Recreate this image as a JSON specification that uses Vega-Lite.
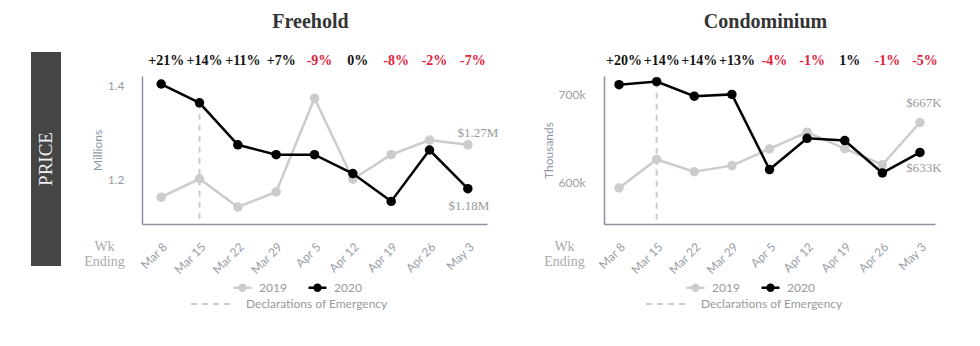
{
  "$schema": "https://vega.github.io/schema/vega-lite/v6.json",
  "padding": {"left": 31, "top": 0, "right": 0, "bottom": 0},
  "background": "white",
  "config": {
    "view": {"stroke": null},
    "font": "Lato",
    "axis": {"grid": false, "ticks": false, "domainColor": "#8d939e", "domainWidth": 1.5, "labelColor": "#9a9ea6", "labelFont": "Lato", "labelFontSize": 12, "titleFontWeight": "normal"}
  },
  "datasets": {
    "fh": [
      {"week": "Mar 8", "year": "2019", "value": 1.163},
      {"week": "Mar 15", "year": "2019", "value": 1.202},
      {"week": "Mar 22", "year": "2019", "value": 1.142},
      {"week": "Mar 29", "year": "2019", "value": 1.174},
      {"week": "Apr 5", "year": "2019", "value": 1.373},
      {"week": "Apr 12", "year": "2019", "value": 1.201},
      {"week": "Apr 19", "year": "2019", "value": 1.253},
      {"week": "Apr 26", "year": "2019", "value": 1.284},
      {"week": "May 3", "year": "2019", "value": 1.274, "label": "$1.27M"},
      {"week": "Mar 8", "year": "2020", "value": 1.403},
      {"week": "Mar 15", "year": "2020", "value": 1.363},
      {"week": "Mar 22", "year": "2020", "value": 1.274},
      {"week": "Mar 29", "year": "2020", "value": 1.253},
      {"week": "Apr 5", "year": "2020", "value": 1.253},
      {"week": "Apr 12", "year": "2020", "value": 1.213},
      {"week": "Apr 19", "year": "2020", "value": 1.154},
      {"week": "Apr 26", "year": "2020", "value": 1.263},
      {"week": "May 3", "year": "2020", "value": 1.181, "label": "$1.18M"}
    ],
    "co": [
      {"week": "Mar 8", "year": "2019", "value": 593.6},
      {"week": "Mar 15", "year": "2019", "value": 626},
      {"week": "Mar 22", "year": "2019", "value": 612},
      {"week": "Mar 29", "year": "2019", "value": 619},
      {"week": "Apr 5", "year": "2019", "value": 638},
      {"week": "Apr 12", "year": "2019", "value": 657},
      {"week": "Apr 19", "year": "2019", "value": 638.4},
      {"week": "Apr 26", "year": "2019", "value": 620},
      {"week": "May 3", "year": "2019", "value": 668, "label": "$667K"},
      {"week": "Mar 8", "year": "2020", "value": 711},
      {"week": "Mar 15", "year": "2020", "value": 714.5},
      {"week": "Mar 22", "year": "2020", "value": 698},
      {"week": "Mar 29", "year": "2020", "value": 700},
      {"week": "Apr 5", "year": "2020", "value": 614.5},
      {"week": "Apr 12", "year": "2020", "value": 650},
      {"week": "Apr 19", "year": "2020", "value": 647.5},
      {"week": "Apr 26", "year": "2020", "value": 610.7},
      {"week": "May 3", "year": "2020", "value": 634, "label": "$633K"}
    ],
    "fh_pct": [
      {"week": "Mar 8", "pct": "+21%", "dir": "up"},
      {"week": "Mar 15", "pct": "+14%", "dir": "up"},
      {"week": "Mar 22", "pct": "+11%", "dir": "up"},
      {"week": "Mar 29", "pct": "+7%", "dir": "up"},
      {"week": "Apr 5", "pct": "-9%", "dir": "down"},
      {"week": "Apr 12", "pct": "0%", "dir": "flat"},
      {"week": "Apr 19", "pct": "-8%", "dir": "down"},
      {"week": "Apr 26", "pct": "-2%", "dir": "down"},
      {"week": "May 3", "pct": "-7%", "dir": "down"}
    ],
    "co_pct": [
      {"week": "Mar 8", "pct": "+20%", "dir": "up"},
      {"week": "Mar 15", "pct": "+14%", "dir": "up"},
      {"week": "Mar 22", "pct": "+14%", "dir": "up"},
      {"week": "Mar 29", "pct": "+13%", "dir": "up"},
      {"week": "Apr 5", "pct": "-4%", "dir": "down"},
      {"week": "Apr 12", "pct": "-1%", "dir": "down"},
      {"week": "Apr 19", "pct": "1%", "dir": "up"},
      {"week": "Apr 26", "pct": "-1%", "dir": "down"},
      {"week": "May 3", "pct": "-5%", "dir": "down"}
    ]
  },
  "spacing": 22,
  "resolve": {"scale": {"color": "independent", "strokeDash": "independent"}},
  "hconcat": [
    {
      "width": 30,
      "height": 214,
      "title": {"text": " ", "fontSize": 20, "offset": 32},
      "view": {"fill": "#454545", "stroke": null},
      "data": {"values": [{"panel": "PRICE"}]},
      "mark": {"type": "text", "angle": 270, "font": "Liberation Serif", "fontSize": 19, "color": "#f2f2f2"},
      "encoding": {"text": {"field": "panel"}}
    },
    {
      "spacing": 43,
      "resolve": {"scale": {"color": "independent", "strokeDash": "independent"}},
      "hconcat": [
        {
          "spacing": 6,
          "vconcat": [
            {
              "width": 345,
              "height": 18,
              "title": {"text": "Freehold", "font": "Liberation Serif", "fontSize": 20, "fontWeight": "bold", "color": "#333333", "offset": 20, "anchor": "middle", "frame": "group", "dx": -4},
              "data": {"name": "fh_pct"},
              "mark": {"type": "text", "font": "Liberation Serif", "fontSize": 14, "fontWeight": "bold", "dx": 5},
              "encoding": {
                "x": {"field": "week", "type": "ordinal", "scale": {"type": "point", "domain": ["Mar 8", "Mar 15", "Mar 22", "Mar 29", "Apr 5", "Apr 12", "Apr 19", "Apr 26", "May 3"], "padding": 0.5}, "axis": null},
                "text": {"field": "pct"},
                "color": {"condition": {"test": "datum.dir == 'down'", "value": "#e3213b"}, "value": "#111111"}
              }
            },
            {
              "width": 345,
              "height": 148,
              "data": {"name": "fh"},
              "encoding": {
                "x": {"field": "week", "type": "ordinal", "scale": {"type": "point", "domain": ["Mar 8", "Mar 15", "Mar 22", "Mar 29", "Apr 5", "Apr 12", "Apr 19", "Apr 26", "May 3"], "padding": 0.5},
                  "axis": {"labelAngle": -45, "labelPadding": 17, "title": ["Wk", "Ending"], "titleFont": "Liberation Serif", "titleFontSize": 14, "titleColor": "#aaaaaa", "titleX": -38, "titleY": 15, "titleAlign": "center", "titleBaseline": "top", "titleLineHeight": 15}},
                "y": {"field": "value", "type": "quantitative", "scale": {"domain": [1.106, 1.42], "nice": false, "zero": false},
                  "axis": {"values": [1.2, 1.4], "title": "Millions", "titleColor": "#8c96a8", "titleFontSize": 12, "titleFont": "Lato", "labelPadding": 18, "titlePadding": 3}}
              },
              "layer": [
                {
                  "transform": [{"filter": "datum.week == 'Mar 15' && datum.year == '2020'"}],
                  "mark": {"type": "rule", "strokeWidth": 2, "color": "#cccccc"},
                  "encoding": {
                    "y2": {"value": "height"},
                    "strokeDash": {"datum": "Declarations of Emergency", "type": "nominal", "scale": {"range": [[6, 5]]},
                      "legend": {"orient": "none", "legendX": 48, "legendY": 229, "title": null, "symbolType": "stroke", "symbolSize": 1936, "symbolStrokeColor": "#cccccc", "symbolStrokeWidth": 2, "labelColor": "#999999", "labelFontSize": 12, "labelFont": "Lato", "labelOffset": 10}}
                  }
                },
                {
                  "transform": [{"filter": "datum.year == '2019'"}],
                  "mark": {"type": "line", "strokeWidth": 2.5},
                  "encoding": {"color": {"field": "year", "type": "nominal", "scale": {"domain": ["2019", "2020"], "range": ["#cccccc", "#000000"]},
                    "legend": {"orient": "none", "legendX": 90, "legendY": 225, "direction": "horizontal", "title": null, "symbolType": "M-1,0L1,0M-0.33,0A0.33,0.33,0,1,0,0.33,0A0.33,0.33,0,1,0,-0.33,0Z", "symbolSize": 324, "symbolStrokeWidth": 2.5, "labelColor": "#999999", "labelFontSize": 12, "labelFont": "Lato", "labelOffset": 6, "columnPadding": 16}}}
                },
                {
                  "transform": [{"filter": "datum.year == '2019'"}],
                  "mark": {"type": "point", "filled": true, "size": 90, "opacity": 1},
                  "encoding": {"color": {"field": "year", "type": "nominal"}}
                },
                {
                  "transform": [{"filter": "datum.year == '2020'"}],
                  "mark": {"type": "line", "strokeWidth": 2.5},
                  "encoding": {"color": {"field": "year", "type": "nominal"}}
                },
                {
                  "transform": [{"filter": "datum.year == '2020'"}],
                  "mark": {"type": "point", "filled": true, "size": 90, "opacity": 1},
                  "encoding": {"color": {"field": "year", "type": "nominal"}}
                },
                {
                  "transform": [{"filter": "datum.year == '2019' && datum.label"}],
                  "mark": {"type": "text", "font": "Liberation Serif", "fontSize": 13, "color": "#999999", "dx": 10, "dy": -12},
                  "encoding": {"text": {"field": "label"}}
                },
                {
                  "transform": [{"filter": "datum.year == '2020' && datum.label"}],
                  "mark": {"type": "text", "font": "Liberation Serif", "fontSize": 13, "color": "#999999", "dx": 1, "dy": 17},
                  "encoding": {"text": {"field": "label"}}
                }
              ]
            }
          ]
        },
        {
          "spacing": 6,
          "vconcat": [
            {
              "width": 331,
              "height": 18,
              "title": {"text": "Condominium", "font": "Liberation Serif", "fontSize": 20, "fontWeight": "bold", "color": "#333333", "offset": 20, "anchor": "middle", "frame": "group", "dx": -4},
              "data": {"name": "co_pct"},
              "mark": {"type": "text", "font": "Liberation Serif", "fontSize": 14, "fontWeight": "bold", "dx": 5},
              "encoding": {
                "x": {"field": "week", "type": "ordinal", "scale": {"type": "point", "domain": ["Mar 8", "Mar 15", "Mar 22", "Mar 29", "Apr 5", "Apr 12", "Apr 19", "Apr 26", "May 3"], "padding": 0.4}, "axis": null},
                "text": {"field": "pct"},
                "color": {"condition": {"test": "datum.dir == 'down'", "value": "#e3213b"}, "value": "#111111"}
              }
            },
            {
              "width": 331,
              "height": 148,
              "data": {"name": "co"},
              "encoding": {
                "x": {"field": "week", "type": "ordinal", "scale": {"type": "point", "domain": ["Mar 8", "Mar 15", "Mar 22", "Mar 29", "Apr 5", "Apr 12", "Apr 19", "Apr 26", "May 3"], "padding": 0.4},
                  "axis": {"labelAngle": -45, "labelPadding": 17, "title": ["Wk", "Ending"], "titleFont": "Liberation Serif", "titleFontSize": 14, "titleColor": "#aaaaaa", "titleX": -40, "titleY": 15, "titleAlign": "center", "titleBaseline": "top", "titleLineHeight": 15}},
                "y": {"field": "value", "type": "quantitative", "scale": {"domain": [552.6, 720.9], "nice": false, "zero": false},
                  "axis": {"values": [600, 700], "labelExpr": "datum.value + 'k'", "title": "Thousands", "titleColor": "#8c96a8", "titleFontSize": 12, "titleFont": "Lato", "labelPadding": 19, "titlePadding": 3}}
              },
              "layer": [
                {
                  "transform": [{"filter": "datum.week == 'Mar 15' && datum.year == '2020'"}],
                  "mark": {"type": "rule", "strokeWidth": 2, "color": "#cccccc"},
                  "encoding": {
                    "y2": {"value": "height"},
                    "strokeDash": {"datum": "Declarations of Emergency", "type": "nominal", "scale": {"range": [[6, 5]]},
                      "legend": {"orient": "none", "legendX": 41, "legendY": 229, "title": null, "symbolType": "stroke", "symbolSize": 1936, "symbolStrokeColor": "#cccccc", "symbolStrokeWidth": 2, "labelColor": "#999999", "labelFontSize": 12, "labelFont": "Lato", "labelOffset": 10}}
                  }
                },
                {
                  "transform": [{"filter": "datum.year == '2019'"}],
                  "mark": {"type": "line", "strokeWidth": 2.5},
                  "encoding": {"color": {"field": "year", "type": "nominal", "scale": {"domain": ["2019", "2020"], "range": ["#cccccc", "#000000"]},
                    "legend": {"orient": "none", "legendX": 81, "legendY": 225, "direction": "horizontal", "title": null, "symbolType": "M-1,0L1,0M-0.33,0A0.33,0.33,0,1,0,0.33,0A0.33,0.33,0,1,0,-0.33,0Z", "symbolSize": 324, "symbolStrokeWidth": 2.5, "labelColor": "#999999", "labelFontSize": 12, "labelFont": "Lato", "labelOffset": 6, "columnPadding": 16}}}
                },
                {
                  "transform": [{"filter": "datum.year == '2019'"}],
                  "mark": {"type": "point", "filled": true, "size": 90, "opacity": 1},
                  "encoding": {"color": {"field": "year", "type": "nominal"}}
                },
                {
                  "transform": [{"filter": "datum.year == '2020'"}],
                  "mark": {"type": "line", "strokeWidth": 2.5},
                  "encoding": {"color": {"field": "year", "type": "nominal"}}
                },
                {
                  "transform": [{"filter": "datum.year == '2020'"}],
                  "mark": {"type": "point", "filled": true, "size": 90, "opacity": 1},
                  "encoding": {"color": {"field": "year", "type": "nominal"}}
                },
                {
                  "transform": [{"filter": "datum.year == '2019' && datum.label"}],
                  "mark": {"type": "text", "font": "Liberation Serif", "fontSize": 13, "color": "#999999", "dx": 4, "dy": -20},
                  "encoding": {"text": {"field": "label"}}
                },
                {
                  "transform": [{"filter": "datum.year == '2020' && datum.label"}],
                  "mark": {"type": "text", "font": "Liberation Serif", "fontSize": 13, "color": "#999999", "dx": 4, "dy": 16},
                  "encoding": {"text": {"field": "label"}}
                }
              ]
            }
          ]
        }
      ]
    }
  ]
}
